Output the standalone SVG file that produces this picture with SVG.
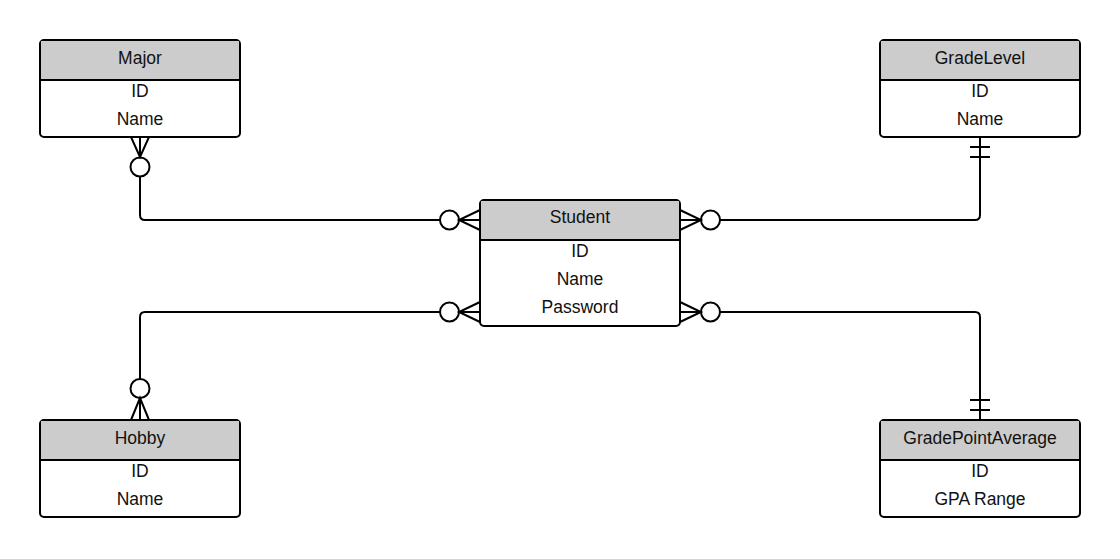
<svg xmlns="http://www.w3.org/2000/svg" width="1120" height="559" viewBox="0 0 1120 559">
<style>
.box{fill:#ffffff;stroke:#000;stroke-width:2}
.hdr{fill:#cccccc;stroke:none}
.sep{stroke:#000;stroke-width:2}
.t{font-family:"Liberation Sans",Arial,sans-serif;font-size:17.5px;fill:#111;text-anchor:middle}
.c{fill:none;stroke:#000;stroke-width:2}
.o{fill:#fff;stroke:#000;stroke-width:2}
</style>
<rect width="1120" height="559" fill="#fff"/>
<g id="connectors">
  <path class="c" d="M140,176 V215 Q140,220 145,220 H440"/>
  <circle class="o" cx="140" cy="167" r="9.5"/>
  <path class="c" d="M131,137 L140,157 L149,137 M140,137 V157"/>
  <circle class="o" cx="449.5" cy="220" r="9.5"/>
  <path class="c" d="M480,210 L459,220 L480,230 M459,220 H480"/>

  <path class="c" d="M720,220 H975 Q980,220 980,215 V137"/>
  <path class="c" d="M970,147 H990 M970,157 H990"/>
  <circle class="o" cx="710.5" cy="220" r="9.5"/>
  <path class="c" d="M680,210 L701,220 L680,230 M680,220 H701"/>

  <path class="c" d="M440,312 H145 Q140,312 140,317 V379"/>
  <circle class="o" cx="140" cy="388.5" r="9.5"/>
  <path class="c" d="M131,420 L140,398 L149,420 M140,398 V420"/>
  <circle class="o" cx="449.5" cy="312" r="9.5"/>
  <path class="c" d="M480,302 L459,312 L480,322 M459,312 H480"/>

  <path class="c" d="M720,312 H975 Q980,312 980,317 V420"/>
  <path class="c" d="M970,400 H990 M970,410 H990"/>
  <circle class="o" cx="710.5" cy="312" r="9.5"/>
  <path class="c" d="M680,302 L701,312 L680,322 M680,312 H701"/>
</g>
<g id="major">
  <rect class="box" x="40" y="40" width="200" height="97" rx="4"/>
  <path class="hdr" d="M41,41 H239 V80 H41 Z"/>
  <line class="sep" x1="40" y1="80" x2="240" y2="80"/>
  <text class="t" x="140" y="63.5">Major</text>
  <text class="t" x="140" y="97">ID</text>
  <text class="t" x="140" y="125">Name</text>
</g>
<g id="gradelevel">
  <rect class="box" x="880" y="40" width="200" height="97" rx="4"/>
  <path class="hdr" d="M881,41 H1079 V80 H881 Z"/>
  <line class="sep" x1="880" y1="80" x2="1080" y2="80"/>
  <text class="t" x="980" y="63.5">GradeLevel</text>
  <text class="t" x="980" y="97">ID</text>
  <text class="t" x="980" y="125">Name</text>
</g>
<g id="student">
  <rect class="box" x="480" y="200" width="200" height="126" rx="4"/>
  <path class="hdr" d="M481,201 H679 V240 H481 Z"/>
  <line class="sep" x1="480" y1="240" x2="680" y2="240"/>
  <text class="t" x="580" y="223">Student</text>
  <text class="t" x="580" y="257">ID</text>
  <text class="t" x="580" y="285">Name</text>
  <text class="t" x="580" y="313">Password</text>
</g>
<g id="hobby">
  <rect class="box" x="40" y="420" width="200" height="97" rx="4"/>
  <path class="hdr" d="M41,421 H239 V460 H41 Z"/>
  <line class="sep" x1="40" y1="460" x2="240" y2="460"/>
  <text class="t" x="140" y="444">Hobby</text>
  <text class="t" x="140" y="477">ID</text>
  <text class="t" x="140" y="505">Name</text>
</g>
<g id="gpa">
  <rect class="box" x="880" y="420" width="200" height="97" rx="4"/>
  <path class="hdr" d="M881,421 H1079 V460 H881 Z"/>
  <line class="sep" x1="880" y1="460" x2="1080" y2="460"/>
  <text class="t" x="980" y="444">GradePointAverage</text>
  <text class="t" x="980" y="477">ID</text>
  <text class="t" x="980" y="505">GPA Range</text>
</g>
</svg>
